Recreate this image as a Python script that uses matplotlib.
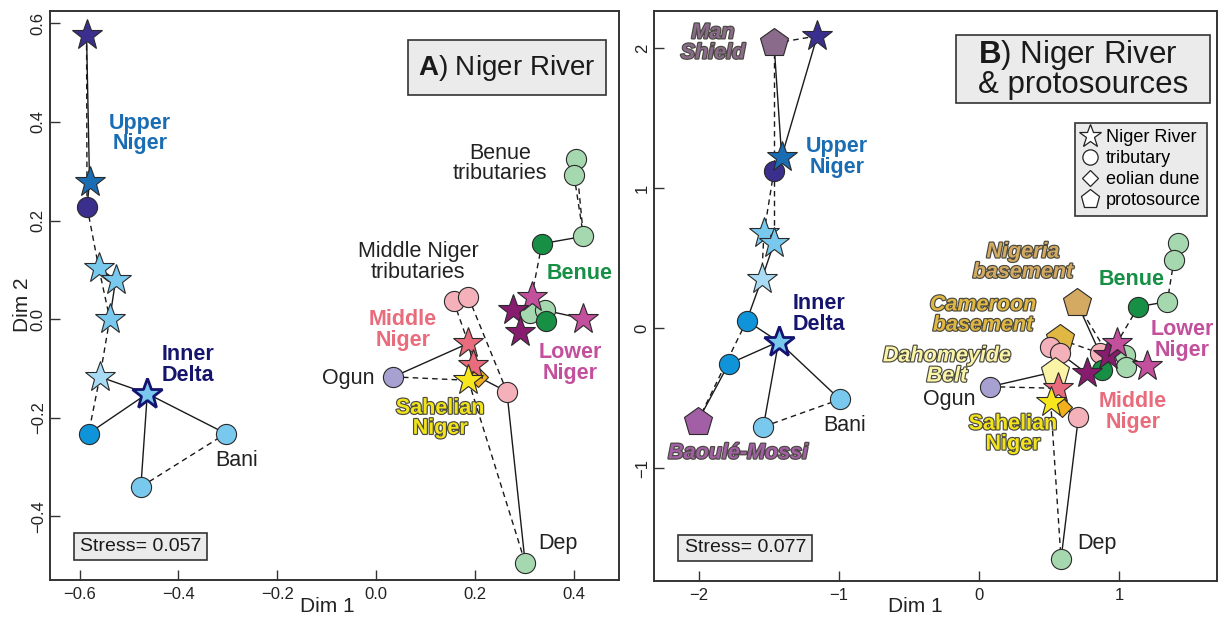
import matplotlib
matplotlib.use("Agg")
import matplotlib.pyplot as plt
from matplotlib.lines import Line2D
from matplotlib.patches import Rectangle
import matplotlib.patheffects as pe

plt.rcParams['font.family'] = ['Liberation Sans', 'DejaVu Sans']
plt.rcParams['mathtext.fontset'] = 'custom'
plt.rcParams['mathtext.rm'] = 'Liberation Sans'
plt.rcParams['mathtext.bf'] = 'Liberation Sans:bold'
plt.rcParams['mathtext.it'] = 'Liberation Sans:italic'
plt.rcParams['axes.unicode_minus'] = True

# ---------------- DATA: panel A (Niger River) ----------------
a_kind = ['star', 'star', 'circle', 'star', 'star', 'star', 'star', 'star', 'circle', 'circle',
          'circle', 'circle', 'circle', 'circle', 'circle', 'star', 'star', 'star', 'star', 'circle',
          'circle', 'circle', 'circle', 'circle', 'star', 'star', 'diamond', 'star', 'circle', 'circle',
          'circle']
a_group = ['guinea', 'upper', 'guinea', 'ulb', 'ulb', 'ulb', 'upb', 'inner', 'idtrib', 'bani',
           'bani', 'btrib', 'btrib', 'btrib', 'benue', 'lnm', 'lnd', 'lnd', 'lnm', 'btrib',
           'btrib', 'benue', 'mntrib', 'mntrib', 'mn', 'mn', 'dune', 'sahel', 'ogun', 'mntrib',
           'btrib']
a_x = [-0.586, -0.580, -0.585, -0.561, -0.527, -0.539, -0.559, -0.463, -0.582, -0.304,
       -0.476, 0.405, 0.401, 0.420, 0.336, 0.315, 0.277, 0.292, 0.419, 0.311,
       0.342, 0.344, 0.157, 0.187, 0.187, 0.197, 0.207, 0.187, 0.035, 0.265,
       0.302]
a_y = [0.576, 0.279, 0.228, 0.103, 0.080, 0.001, -0.117, -0.151, -0.232, -0.232,
       -0.340, 0.324, 0.292, 0.168, 0.153, 0.045, 0.018, -0.026, 0.001, 0.013,
       0.018, -0.003, 0.037, 0.045, -0.049, -0.093, -0.117, -0.124, -0.117, -0.147,
       -0.494]
a_solid = [(0, 1), (1, 2), (3, 4), (4, 5), (6, 7), (7, 8), (7, 9), (7, 10), (14, 13), (20, 18),
           (28, 24), (24, 25), (26, 29), (29, 30)]
a_dashed = [(0, 2), (2, 3), (3, 5), (5, 6), (6, 8), (10, 9), (11, 13), (12, 13), (14, 15),
            (22, 24), (23, 29), (28, 27), (27, 30)]
a_stress = 0.057
a_xticks = [-0.6, -0.4, -0.2, 0.0, 0.2, 0.4]
a_xticklabels = ['\u22120.6', '\u22120.4', '\u22120.2', '0.0', '0.2', '0.4']
a_yticks = [-0.4, -0.2, 0.0, 0.2, 0.4, 0.6]
a_yticklabels = ['\u22120.4', '\u22120.2', '0.0', '0.2', '0.4', '0.6']

# ---------------- DATA: panel B (Niger River & protosources) ----------------
b_kind = ['pent', 'star', 'star', 'circle', 'star', 'star', 'star', 'circle', 'star', 'circle',
          'circle', 'circle', 'pent', 'circle', 'circle', 'circle', 'circle', 'pent', 'pent', 'circle',
          'circle', 'pent', 'circle', 'star', 'star', 'diamond', 'circle', 'circle', 'circle', 'star',
          'star', 'circle', 'circle', 'circle', 'star', 'star']
b_group = ['man', 'guinea', 'upper', 'guinea', 'ulb', 'ulb', 'upb', 'idtrib', 'inner', 'idtrib',
           'bani', 'bani', 'baoule', 'btrib', 'btrib', 'btrib', 'benue', 'nigeria', 'cameroon', 'mntrib',
           'mntrib', 'dahomey', 'ogun', 'mn', 'sahel', 'dune', 'mntrib', 'btrib', 'mntrib', 'lnd',
           'lnm', 'btrib', 'btrib', 'benue', 'lnd', 'lnm']
b_x = [-1.464, -1.155, -1.409, -1.464, -1.536, -1.464, -1.552, -1.659, -1.431, -1.788,
       -0.993, -1.540, -2.010, 1.424, 1.393, 1.345, 1.138, 0.702, 0.579, 0.507,
       0.579, 0.543, 0.079, 0.567, 0.512, 0.591, 0.710, 0.586, 0.864, 0.924,
       0.983, 1.043, 1.050, 0.876, 0.769, 1.198]
b_y = [2.033, 2.086, 1.224, 1.124, 0.676, 0.605, 0.348, 0.052, -0.098, -0.257,
       -0.510, -0.705, -0.669, 0.610, 0.486, 0.188, 0.152, 0.176, -0.081, -0.133,
       -0.181, -0.312, -0.419, -0.431, -0.526, -0.562, -0.638, -1.652, -0.181, -0.193,
       -0.110, -0.193, -0.281, -0.300, -0.324, -0.271]
b_solid = [(0, 2), (1, 2), (2, 3), (5, 6), (6, 7), (8, 7), (8, 9), (8, 10), (8, 11), (9, 12),
           (16, 15), (17, 28), (20, 34), (22, 21), (25, 26), (26, 27), (31, 35)]
b_dashed = [(0, 1), (0, 3), (3, 4), (3, 5), (4, 6), (7, 12), (11, 10), (14, 15), (16, 30),
            (17, 29), (18, 28), (22, 23), (24, 27)]
b_stress = 0.077
b_xticks = [-2, -1, 0, 1]
b_xticklabels = ['\u22122', '\u22121', '0', '1']
b_yticks = [-1, 0, 1, 2]
b_yticklabels = ['\u22121', '0', '1', '2']

legend_labels = ['Niger River', 'tributary', 'eolian dune', 'protosource']

# ---------------- STYLES ----------------
group_color = {
    'guinea': '#3b2f8e', 'upper': '#1a6cb3', 'ulb': '#79c9ee', 'upb': '#a9dcf4',
    'inner': '#79c9ee', 'idtrib': '#0f94d9', 'bani': '#79c9ee', 'btrib': '#a6d8b0',
    'benue': '#178f45', 'lnm': '#c2509c', 'lnd': '#871c6f', 'mntrib': '#f4b1b9',
    'mn': '#e86c7b', 'sahel': '#f7e51d', 'dune': '#f2b11c', 'ogun': '#a7a1d1',
    'man': '#8b6b8b', 'baoule': '#a25fa5', 'nigeria': '#d4aa62', 'cameroon': '#e1b743',
    'dahomey': '#fbf4a6',
}
kind_marker = {'star': '*', 'circle': 'o', 'diamond': 'D', 'pent': 'p'}
kind_size = {'star': 23, 'circle': 14.5, 'diamond': 10.5, 'pent': 21}
kind_z = {'circle': 3, 'pent': 3, 'diamond': 3.5, 'star': 4}

LBL = 15.5
outline = [pe.withStroke(linewidth=1.7, foreground='#4a4a40')]

a_labels = [
    ('Upper\nNiger', -0.478, 0.377, 'upper', 'bold', 'normal', False),
    ('Inner\nDelta', -0.381, -0.093, 'innertxt', 'bold', 'normal', False),
    ('Bani', -0.282, -0.286, 'black', 'normal', 'normal', False),
    ('Benue\ntributaries', 0.251, 0.316, 'black', 'normal', 'normal', False),
    ('Middle Niger\ntributaries', 0.085, 0.116, 'black', 'normal', 'normal', False),
    ('Benue', 0.413, 0.093, 'benue', 'bold', 'normal', False),
    ('Middle\nNiger', 0.055, -0.022, 'mn', 'bold', 'normal', False),
    ('Lower\nNiger', 0.393, -0.089, 'lnm', 'bold', 'normal', False),
    ('Ogun', -0.057, -0.120, 'black', 'normal', 'normal', False),
    ('Sahelian\nNiger', 0.130, -0.201, 'sahel', 'bold', 'normal', True),
    ('Dep', 0.369, -0.454, 'black', 'normal', 'normal', False),
]
b_labels = [
    ('Man\nShield', -1.90, 2.036, 'man', 'bold', 'italic', True),
    ('Upper\nNiger', -1.014, 1.221, 'upper', 'bold', 'normal', False),
    ('Inner\nDelta', -1.143, 0.100, 'innertxt', 'bold', 'normal', False),
    ('Bani', -0.957, -0.693, 'black', 'normal', 'normal', False),
    ('Baoulé-Mossi', -1.721, -0.893, 'baoule', 'bold', 'italic', True),
    ('Nigeria\nbasement', 0.314, 0.471, 'nigeria', 'bold', 'italic', True),
    ('Cameroon\nbasement', 0.029, 0.093, 'cameroon', 'bold', 'italic', True),
    ('Dahomeyide\nBelt', -0.229, -0.271, 'dahomey', 'bold', 'italic', True),
    ('Ogun', -0.214, -0.514, 'black', 'normal', 'normal', False),
    ('Sahelian\nNiger', 0.243, -0.757, 'sahel', 'bold', 'normal', True),
    ('Benue', 1.093, 0.343, 'benue', 'bold', 'normal', False),
    ('Lower\nNiger', 1.450, -0.086, 'lnm', 'bold', 'normal', False),
    ('Middle\nNiger', 1.100, -0.600, 'mn', 'bold', 'normal', False),
    ('Dep', 0.843, -1.536, 'black', 'normal', 'normal', False),
]
text_color = dict(group_color)
text_color.update({'black': '#222222', 'innertxt': '#15156e', 'sahel': '#f3e41a'})


def draw_panel(ax, kind, group, xs, ys, solid, dashed, labels):
    for i, j in solid:
        ax.plot([xs[i], xs[j]], [ys[i], ys[j]], color='#1a1a1a', lw=1.0, zorder=2,
                solid_capstyle='butt')
    for i, j in dashed:
        ax.plot([xs[i], xs[j]], [ys[i], ys[j]], color='#1a1a1a', lw=1.0, zorder=2,
                linestyle=(0, (4, 3)))
    for k in range(len(xs)):
        g = group[k]
        kd = kind[k]
        ec = '#141470' if g == 'inner' else '#2a2a2a'
        mew = 2.0 if g == 'inner' else 0.8
        ax.plot([xs[k]], [ys[k]], linestyle='none', marker=kind_marker[kd],
                ms=kind_size[kd], mfc=group_color[g], mec=ec, mew=mew,
                zorder=kind_z[kd] + k * 0.001)
    for txt, x, y, col, wt, st, outl in labels:
        t = ax.text(x, y, txt, color=text_color[col], fontsize=LBL, fontweight=wt,
                    fontstyle=st, ha='center', va='center', linespacing=0.95, zorder=6)
        if outl:
            t.set_path_effects(outline)


def style_axes(ax, xlim, ylim, xt, xtl, yt, ytl):
    ax.set_xlim(*xlim)
    ax.set_ylim(*ylim)
    ax.set_xticks(xt)
    ax.set_xticklabels(xtl)
    ax.set_yticks(yt)
    ax.set_yticklabels(ytl, rotation=90, va='center')
    ax.tick_params(direction='in', length=7, width=1.0, labelsize=12, color='#333333',
                   labelcolor='#222222')
    ax.tick_params(axis='x', pad=5)
    ax.tick_params(axis='y', pad=3)
    for s in ax.spines.values():
        s.set_linewidth(1.4)
        s.set_color('#333333')


def boxed_text(ax, x0, y0, x1, y1, txt, size, **kw):
    ax.add_patch(Rectangle((x0, y0), x1 - x0, y1 - y0, transform=ax.transAxes,
                           fc='#ebebeb', ec='#333333', lw=1.2, zorder=7))
    ax.text((x0 + x1) / 2, (y0 + y1) / 2, txt, transform=ax.transAxes, fontsize=size,
            ha='center', va='center', color='#1a1a1a', zorder=8, **kw)


fig = plt.figure(figsize=(12.2, 6.19), dpi=100)
axA = fig.add_axes([50 / 1220, (619 - 580) / 619, 569 / 1220, 569 / 619])
axB = fig.add_axes([654 / 1220, (619 - 581) / 619, 563 / 1220, 570 / 619])

draw_panel(axA, a_kind, a_group, a_x, a_y, a_solid, a_dashed, a_labels)
draw_panel(axB, b_kind, b_group, b_x, b_y, b_solid, b_dashed, b_labels)

style_axes(axA, (-0.66, 0.492), (-0.529, 0.625), a_xticks, a_xticklabels, a_yticks, a_yticklabels)
style_axes(axB, (-2.321, 1.700), (-1.807, 2.264), b_xticks, b_xticklabels, b_yticks, b_yticklabels)

boxed_text(axA, 0.629, 0.852, 0.977, 0.949, r'$\mathbf{A}$) Niger River', 20)
boxed_text(axB, 0.536, 0.839, 0.988, 0.958, r'$\mathbf{B}$) Niger River' + '\n& protosources', 22.5,
           multialignment='left', linespacing=0.9)
boxed_text(axA, 0.042, 0.035, 0.276, 0.083, 'Stress= %.3f' % a_stress, 14)
boxed_text(axB, 0.043, 0.035, 0.281, 0.081, 'Stress= %.3f' % b_stress, 14)

handles = [Line2D([], [], linestyle='none', marker=kind_marker[k], mfc='white', mec='#222222',
                  mew=0.9, ms={'star': 17, 'circle': 11, 'diamond': 8, 'pent': 14}[k])
           for k in ['star', 'circle', 'diamond', 'pent']]
leg = axB.legend(handles, legend_labels, loc='upper right', bbox_to_anchor=(0.982, 0.8035),
                 fontsize=13, frameon=True, fancybox=False, edgecolor='#333333',
                 facecolor='#ebebeb', framealpha=1, handlelength=1.0, handletextpad=0.35,
                 borderpad=0.35, labelspacing=0.22, borderaxespad=0)
leg.get_frame().set_linewidth(1.2)
leg.set_zorder(8)

fig.text(22 / 1220, 1 - 305 / 619, 'Dim 2', rotation=90, fontsize=15, ha='center', va='center',
         color='#222222')
fig.text(327 / 1220, 1 - 606 / 619, 'Dim 1', fontsize=15, ha='center', va='center', color='#222222')
fig.text(915 / 1220, 1 - 606 / 619, 'Dim 1', fontsize=15, ha='center', va='center', color='#222222')

fig.savefig('out.png', dpi=100)
